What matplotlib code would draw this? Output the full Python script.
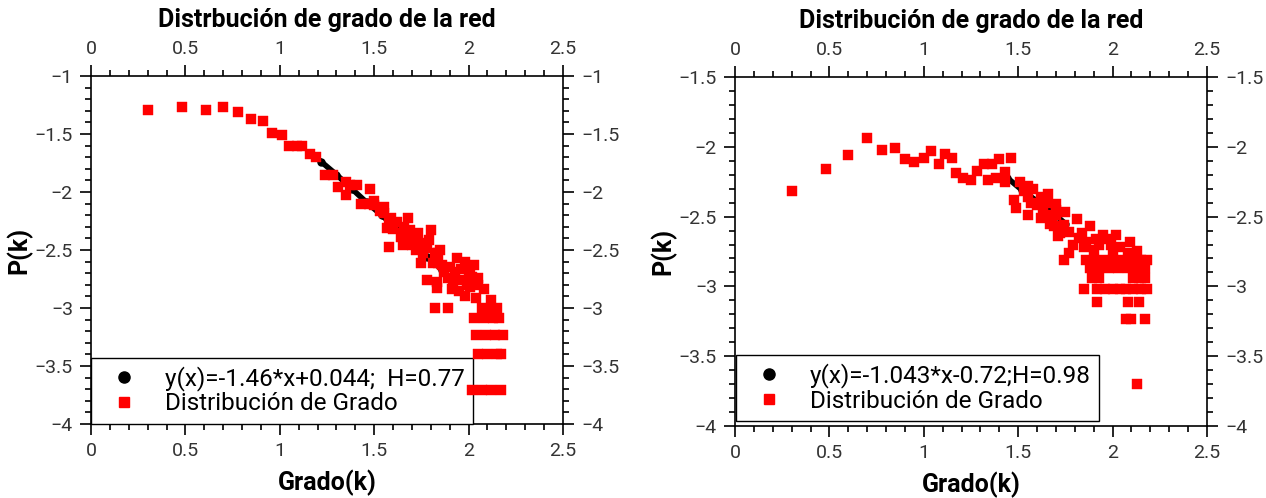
import matplotlib
matplotlib.use('Agg')
import matplotlib.pyplot as plt
from matplotlib.lines import Line2D
from matplotlib.ticker import MultipleLocator, FuncFormatter

plt.rcParams['font.family'] = ['Roboto', 'DejaVu Sans']

# left panel: degree distribution (log10 k, log10 P(k))
left_x = [0.30, 0.48, 0.61, 0.70, 0.78, 0.85, 0.91, 0.96, 1.01, 1.05, 1.09, 1.12,
          1.16, 1.19, 1.24, 1.28, 1.31, 1.35, 1.35, 1.37, 1.41, 1.48, 1.43, 1.47,
          1.50, 1.55, 1.53, 1.50, 1.55, 1.59, 1.68, 1.57, 1.58, 1.65, 1.69, 1.73,
          1.80, 1.68, 1.65, 1.74, 1.76, 1.82, 1.85, 1.75, 1.81, 1.90, 1.94, 1.98,
          2.01, 1.78, 1.83, 1.89, 1.92, 1.97, 2.02, 2.01, 2.05, 1.83, 1.95, 2.04,
          2.12, 1.64, 1.58, 1.84, 1.82, 1.89, 2.07, 2.12, 2.15,
          2.03, 2.08, 2.13, 2.16, 2.04, 2.09, 2.14, 2.18, 2.05, 2.10, 2.15, 2.17,
          2.02, 2.07, 2.12, 2.17,
          1.87, 1.93, 1.96, 2.00, 2.05, 1.99, 1.91, 2.08, 1.86, 2.03, 1.98, 1.84,
          1.62, 1.66, 1.71, 1.60, 1.70, 1.78, 1.79, 1.72]
left_y = [-1.29, -1.27, -1.29, -1.27, -1.31, -1.37, -1.39, -1.49, -1.51, -1.60, -1.60, -1.60,
          -1.67, -1.70, -1.85, -1.85, -1.96, -2.03, -1.91, -1.94, -1.94, -1.97, -2.10, -2.10,
          -2.08, -2.13, -2.16, -2.11, -2.18, -2.22, -2.22, -2.31, -2.47, -2.35, -2.33, -2.35,
          -2.33, -2.41, -2.46, -2.44, -2.53, -2.53, -2.50, -2.61, -2.61, -2.65, -2.57, -2.60,
          -2.69, -2.76, -2.78, -2.74, -2.78, -2.76, -2.73, -2.82, -2.80, -2.83, -2.85, -2.91,
          -2.93, -2.39, -2.24, -2.53, -3.00, -3.00, -3.00, -3.00, -3.00,
          -3.09, -3.09, -3.09, -3.09, -3.23, -3.23, -3.23, -3.23, -3.40, -3.40, -3.40, -3.40,
          -3.71, -3.71, -3.71, -3.71,
          -2.69, -2.69, -2.66, -2.74, -2.74, -2.80, -2.84, -2.84, -2.63, -2.63, -2.90, -2.61,
          -2.26, -2.30, -2.38, -2.32, -2.46, -2.48, -2.41, -2.50]
left_fit_x = [1.22, 1.30, 1.38, 1.46, 1.54, 1.62, 1.70, 1.78, 1.86]
left_fit_y = [-1.74, -1.85, -1.97, -2.09, -2.20, -2.32, -2.44, -2.56, -2.67]

# right panel
right_x = [0.30, 0.48, 0.60, 0.70, 0.78, 0.85, 0.90, 0.95, 1.00, 1.04, 1.08, 1.11,
           1.15, 1.17, 1.21, 1.25, 1.28, 1.32, 1.36, 1.40, 1.46, 1.34, 1.38, 1.43,
           1.43, 1.48, 1.49, 1.51, 1.55, 1.58, 1.55, 1.62, 1.66, 1.55, 1.62, 1.65,
           1.70, 1.70, 1.69, 1.71, 1.65, 1.70, 1.75, 1.81, 1.88, 1.67, 1.74, 1.72,
           1.77, 1.82, 1.86, 1.95, 2.02, 2.09, 1.93, 1.99, 1.90, 1.77,
           1.74, 1.86, 1.90, 1.95, 2.00, 2.05, 2.10, 2.15, 2.18, 2.08, 2.13,
           1.88, 1.93, 1.98, 2.03, 2.08, 2.13, 2.17,
           1.89, 1.93, 2.11, 2.14, 2.17,
           1.85, 1.92, 1.96, 2.00, 2.04, 2.07, 2.11, 2.15, 2.18,
           1.92, 2.08, 2.14, 2.07, 2.10, 2.17, 2.13,
           1.84, 1.91, 1.97, 2.04, 2.00, 1.79, 1.85,
           1.53, 1.60, 1.57, 1.68, 1.63]
right_y = [-2.32, -2.16, -2.06, -1.94, -2.02, -2.01, -2.09, -2.11, -2.08, -2.03, -2.12, -2.05,
           -2.08, -2.19, -2.22, -2.24, -2.17, -2.12, -2.12, -2.09, -2.08, -2.24, -2.22, -2.18,
           -2.25, -2.38, -2.44, -2.25, -2.28, -2.30, -2.36, -2.36, -2.34, -2.49, -2.51, -2.49,
           -2.41, -2.49, -2.57, -2.64, -2.40, -2.45, -2.47, -2.52, -2.57, -2.55, -2.56, -2.62,
           -2.61, -2.65, -2.68, -2.63, -2.63, -2.68, -2.70, -2.70, -2.74, -2.76,
           -2.81, -2.81, -2.81, -2.81, -2.81, -2.81, -2.81, -2.81, -2.81, -2.76, -2.75,
           -2.87, -2.87, -2.87, -2.87, -2.87, -2.87, -2.87,
           -2.94, -2.94, -2.94, -2.94, -2.94,
           -3.02, -3.02, -3.02, -3.02, -3.02, -3.02, -3.02, -3.02, -3.02,
           -3.11, -3.11, -3.11, -3.23, -3.23, -3.23, -3.70,
           -2.62, -2.66, -2.66, -2.72, -2.76, -2.70, -2.72,
           -2.32, -2.42, -2.40, -2.52, -2.45]
right_fit_x = [1.44, 1.52, 1.60, 1.68, 1.75]
right_fit_y = [-2.22, -2.31, -2.39, -2.47, -2.55]

titles = ['Distrbución de grado de la red', 'Distribución de grado de la red']
fit_labels = ['y(x)=-1.46*x+0.044;  H=0.77', 'y(x)=-1.043*x-0.72;H=0.98']
data_label = 'Distribución de Grado'


def fmt(v, pos):
    return ('%g' % v).replace('-', '\u2212')


fig = plt.figure(figsize=(12.66, 4.98), dpi=100)
ax1 = fig.add_axes([91/1266, 1-424/498, 472/1266, 348/498])
ax2 = fig.add_axes([735/1266, 1-426/498, 472/1266, 349/498])

panels = [
    (ax1, left_x, left_y, left_fit_x, left_fit_y, (-4, -1), (0.0, 0.0)),
    (ax2, right_x, right_y, right_fit_x, right_fit_y, (-4, -1.5), (0.002, 0.014)),
]

for i, (ax, xs, ys, fx, fy, ylim, anchor) in enumerate(panels):
    ax.plot(fx, fy, '-', color='black', lw=4, zorder=2)
    ax.plot(fx, fy, 'o', color='black', ms=5, zorder=2)
    ax.plot(xs, ys, 's', color='red', ms=7.5, mec='red', mew=0.3, zorder=3)
    ax.set_xlim(0, 2.5)
    ax.set_ylim(*ylim)
    ax.xaxis.set_major_locator(MultipleLocator(0.5))
    ax.xaxis.set_minor_locator(MultipleLocator(0.1))
    ax.yaxis.set_major_locator(MultipleLocator(0.5))
    ax.yaxis.set_minor_locator(MultipleLocator(0.1))
    ax.xaxis.set_major_formatter(FuncFormatter(fmt))
    ax.yaxis.set_major_formatter(FuncFormatter(fmt))
    ax.tick_params(which='both', direction='out', top=True, right=True,
                   labeltop=True, labelright=True, labelsize=14,
                   labelcolor='#333333', width=1.2)
    ax.tick_params(which='major', length=8, pad=5)
    ax.tick_params(which='minor', length=4.5)
    for s in ax.spines.values():
        s.set_linewidth(1.2)
    ax.set_xlabel('Grado(k)', fontsize=18, fontweight='bold', labelpad=7)
    ax.set_ylabel('P(k)', fontsize=18, fontweight='bold', labelpad=2)
    ax.set_title(titles[i], fontsize=18, fontweight='bold', y=1.14, pad=0)

    handles = [Line2D([], [], ls='none', marker='o', color='black', ms=8),
               Line2D([], [], ls='none', marker='s', color='red', ms=7)]
    leg = ax.legend(handles, [fit_labels[i], data_label], loc='lower left',
                    bbox_to_anchor=anchor, borderaxespad=0, fontsize=17.5,
                    frameon=True, fancybox=False, edgecolor='black',
                    framealpha=1, handlelength=2.0, handletextpad=0.7,
                    borderpad=0.35, labelspacing=0.05)
    leg.get_frame().set_linewidth(1.0)
    leg.set_zorder(2.5)

fig.savefig('out.png', dpi=100)
